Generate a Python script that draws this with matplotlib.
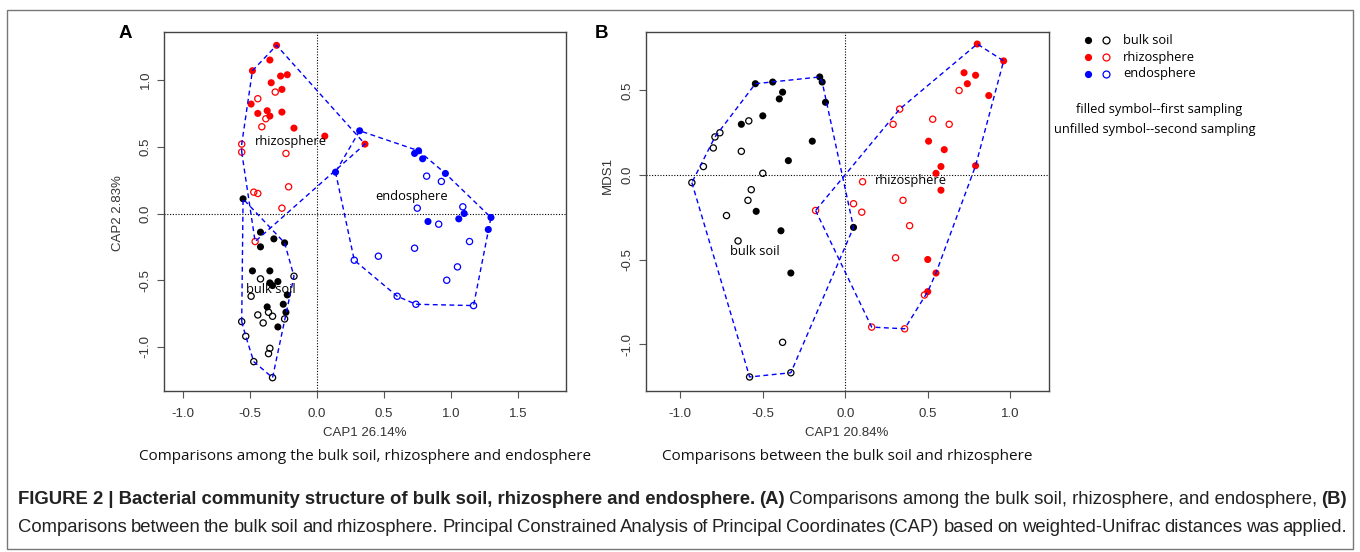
import numpy as np
import matplotlib
matplotlib.use("Agg")
import matplotlib.pyplot as plt
from matplotlib.patches import Rectangle
from matplotlib import font_manager

# ---- data ----
# panel A (CAP on bulk soil, rhizosphere, endosphere)
a_bulk1_x = [-0.55, -0.42, -0.42, -0.32, -0.24, -0.48, -0.35, -0.35, -0.33, -0.29, -0.22, -0.25, -0.37, -0.23, -0.29]
a_bulk1_y = [0.11, -0.14, -0.25, -0.19, -0.22, -0.43, -0.43, -0.52, -0.54, -0.51, -0.61, -0.68, -0.70, -0.74, -0.85]
a_bulk2_x = [-0.42, -0.49, -0.17, -0.44, -0.36, -0.33, -0.40, -0.24, -0.56, -0.53, -0.35, -0.36, -0.47, -0.33]
a_bulk2_y = [-0.49, -0.62, -0.47, -0.76, -0.74, -0.77, -0.82, -0.79, -0.81, -0.92, -1.01, -1.05, -1.11, -1.23]
a_rhizo1_x = [-0.30, -0.35, -0.48, -0.27, -0.22, -0.34, -0.26, -0.49, -0.44, -0.37, -0.35, -0.26, -0.17, 0.06, 0.36]
a_rhizo1_y = [1.26, 1.15, 1.07, 1.03, 1.04, 0.98, 0.93, 0.82, 0.75, 0.77, 0.73, 0.76, 0.64, 0.58, 0.52]
a_rhizo2_x = [-0.31, -0.44, -0.38, -0.41, -0.56, -0.56, -0.23, -0.47, -0.44, -0.21, -0.26, -0.46]
a_rhizo2_y = [0.91, 0.86, 0.71, 0.65, 0.52, 0.46, 0.45, 0.16, 0.15, 0.20, 0.04, -0.21]
a_endo1_x = [0.32, 0.14, 0.76, 0.73, 0.79, 0.96, 0.83, 1.06, 1.10, 1.30, 1.28]
a_endo1_y = [0.62, 0.31, 0.47, 0.45, 0.41, 0.30, -0.06, -0.04, 0.00, -0.03, -0.12]
a_endo2_x = [0.82, 0.93, 0.75, 1.09, 0.91, 0.73, 1.14, 0.46, 0.28, 1.05, 0.97, 0.60, 0.74, 1.17]
a_endo2_y = [0.28, 0.24, 0.04, 0.05, -0.08, -0.26, -0.21, -0.32, -0.35, -0.40, -0.50, -0.62, -0.68, -0.69]

# panel B (bulk soil vs rhizosphere)
b_bulk1_x = [-0.545, -0.44, -0.155, -0.14, -0.12, -0.38, -0.40, -0.50, -0.63, -0.20, -0.345, -0.54, -0.39, -0.33, 0.05]
b_bulk1_y = [0.54, 0.55, 0.58, 0.55, 0.43, 0.49, 0.45, 0.35, 0.30, 0.20, 0.085, -0.215, -0.33, -0.58, -0.31]
b_bulk2_x = [-0.585, -0.76, -0.79, -0.80, -0.63, -0.86, -0.93, -0.50, -0.57, -0.59, -0.72, -0.65, -0.38, -0.58, -0.33]
b_bulk2_y = [0.32, 0.25, 0.225, 0.16, 0.14, 0.05, -0.045, 0.01, -0.087, -0.15, -0.24, -0.39, -0.99, -1.195, -1.17]
b_rhizo1_x = [0.80, 0.96, 0.72, 0.79, 0.74, 0.87, 0.505, 0.60, 0.58, 0.79, 0.55, 0.58, 0.50, 0.55, 0.50]
b_rhizo1_y = [0.775, 0.675, 0.605, 0.59, 0.54, 0.47, 0.20, 0.15, 0.05, 0.055, 0.01, -0.09, -0.50, -0.58, -0.69]
b_rhizo2_x = [0.69, 0.33, 0.29, 0.53, 0.63, 0.105, 0.05, 0.10, 0.35, 0.39, 0.305, 0.48, 0.16, 0.36, -0.18]
b_rhizo2_y = [0.50, 0.39, 0.30, 0.33, 0.30, -0.04, -0.17, -0.22, -0.15, -0.30, -0.49, -0.71, -0.90, -0.91, -0.21]

groups = ["bulk soil", "rhizosphere", "endosphere"]
colors = ["black", "red", "blue"]

W, H = 1360, 552
names = {f.name for f in font_manager.fontManager.ttflist}
NARROW = "Liberation Sans Narrow" if "Liberation Sans Narrow" in names else "Liberation Sans"
HUMAN = "Open Sans"


def hull(xs, ys):
    pts = sorted(set(zip(xs, ys)))

    def cross(o, a, b):
        return (a[0] - o[0]) * (b[1] - o[1]) - (a[1] - o[1]) * (b[0] - o[0])

    lower, upper = [], []
    for p in pts:
        while len(lower) >= 2 and cross(lower[-2], lower[-1], p) <= 0:
            lower.pop()
        lower.append(p)
    for p in reversed(pts):
        while len(upper) >= 2 and cross(upper[-2], upper[-1], p) <= 0:
            upper.pop()
        upper.append(p)
    h = lower[:-1] + upper[:-1]
    h.append(h[0])
    return np.array(h)


def draw_panel(ax, sets, xlim, ylim, xticks, yticks):
    for x1, y1, x2, y2, c in sets:
        ax.scatter(x1, y1, s=26, c=c, edgecolors="none", zorder=3)
        ax.scatter(x2, y2, s=20, facecolors="none", edgecolors=c, linewidths=0.9, zorder=3)
    for x1, y1, x2, y2, c in sets:
        h = hull(list(x1) + list(x2), list(y1) + list(y2))
        ax.plot(h[:, 0], h[:, 1], color="blue", lw=1.0, ls=(0, (3.5, 2.5)), zorder=4)
    ax.axhline(0, color="black", lw=0.8, ls=(0, (1, 1.5)), zorder=2)
    ax.axvline(0, color="black", lw=0.8, ls=(0, (1, 1.5)), zorder=2)
    ax.set_xlim(*xlim)
    ax.set_ylim(*ylim)
    ax.set_xticks(xticks)
    ax.set_yticks(yticks)
    ax.set_xticklabels([f"{v:.1f}" for v in xticks], fontfamily=NARROW, fontsize=9.5, color="#333")
    ax.set_yticklabels([f"{v:.1f}" for v in yticks], fontfamily=NARROW, fontsize=9.5, color="#333",
                       rotation=90, va="center")
    ax.tick_params(direction="out", length=5, width=0.8, color="#555")
    ax.tick_params(axis="x", pad=7)
    ax.tick_params(axis="y", pad=4)
    for s in ax.spines.values():
        s.set_color("#444")
        s.set_linewidth(1.0)


fig = plt.figure(figsize=(W / 100, H / 100), dpi=100)

axA = fig.add_axes([164 / W, 1 - 391 / H, 402 / W, 359 / H])
draw_panel(axA,
           [(a_bulk1_x, a_bulk1_y, a_bulk2_x, a_bulk2_y, "black"),
            (a_rhizo1_x, a_rhizo1_y, a_rhizo2_x, a_rhizo2_y, "red"),
            (a_endo1_x, a_endo1_y, a_endo2_x, a_endo2_y, "blue")],
           (-1.14, 1.86), (-1.33, 1.36),
           [-1.0, -0.5, 0.0, 0.5, 1.0, 1.5], [-1.0, -0.5, 0.0, 0.5, 1.0])

axB = fig.add_axes([646 / W, 1 - 391 / H, 403 / W, 359 / H])
draw_panel(axB,
           [(b_bulk1_x, b_bulk1_y, b_bulk2_x, b_bulk2_y, "black"),
            (b_rhizo1_x, b_rhizo1_y, b_rhizo2_x, b_rhizo2_y, "red")],
           (-1.208, 1.235), (-1.278, 0.846),
           [-1.0, -0.5, 0.0, 0.5, 1.0], [-1.0, -0.5, 0.0, 0.5])

lab_fs = 9.3
axA.text(-0.19, 0.54, "rhizosphere", ha="center", va="center", fontfamily=HUMAN, fontsize=lab_fs, zorder=5)
axA.text(0.71, 0.13, "endosphere", ha="center", va="center", fontfamily=HUMAN, fontsize=lab_fs, zorder=5)
axA.text(-0.345, -0.57, "bulk soil", ha="center", va="center", fontfamily=HUMAN, fontsize=lab_fs, zorder=5)
axB.text(0.40, -0.034, "rhizosphere", ha="center", va="center", fontfamily=HUMAN, fontsize=lab_fs, zorder=5)
axB.text(-0.55, -0.45, "bulk soil", ha="center", va="center", fontfamily=HUMAN, fontsize=lab_fs, zorder=5)

# overlay in pixel coordinates for frame, legend, captions
ov = fig.add_axes([0, 0, 1, 1], zorder=10)
ov.set_xlim(0, W)
ov.set_ylim(H, 0)
ov.axis("off")
ov.patch.set_alpha(0)
renderer = fig.canvas.get_renderer()

ov.add_patch(Rectangle((7, 10), 1346, 539, fill=False, edgecolor="#777", lw=1.0))

ov.text(125, 33, "A", ha="center", va="center", fontfamily="Liberation Sans", fontweight="bold", fontsize=13.5)
ov.text(601, 33, "B", ha="center", va="center", fontfamily="Liberation Sans", fontweight="bold", fontsize=13.5)

ov.text(365, 433, "CAP1 26.14%", ha="center", va="center", fontfamily=NARROW, fontsize=9.5, color="#333")
ov.text(847, 433, "CAP1 20.84%", ha="center", va="center", fontfamily=NARROW, fontsize=9.5, color="#333")
ov.text(118, 213, "CAP2 2.83%", ha="center", va="center", rotation=90, fontfamily=NARROW, fontsize=9.5, color="#333")
ov.text(608, 175, "MDS1", ha="center", va="center", rotation=90, fontfamily=NARROW, fontsize=9.5, color="#333")

# subtitles, sized so the first spans ~450 px
s1 = ov.text(365, 456, "Comparisons among the bulk soil, rhizosphere and endosphere", ha="center", va="center",
             fontfamily=HUMAN, fontsize=11, color="#111")
sub_fs = 11 * 450 / s1.get_window_extent(renderer).width
s1.set_fontsize(sub_fs)
ov.text(847, 456, "Comparisons between the bulk soil and rhizosphere", ha="center", va="center",
        fontfamily=HUMAN, fontsize=sub_fs, color="#111")

# legend
for i, (g, c) in enumerate(zip(groups, colors)):
    yy = 40 + 17 * i
    ov.plot(1088, yy, "o", color=c, ms=5.2, mec="none")
    ov.plot(1106, yy, "o", mfc="none", mec=c, ms=5.0, mew=0.9)
    ov.text(1123, yy, g, ha="left", va="center", fontfamily=HUMAN, fontsize=lab_fs)
ov.text(1159, 109, "filled symbol--first sampling", ha="center", va="center", fontfamily=HUMAN, fontsize=lab_fs)
ov.text(1155, 129, "unfilled symbol--second sampling", ha="center", va="center", fontfamily=HUMAN, fontsize=lab_fs)

# caption: line 1 sets the size with natural spacing, line 2 is justified
left, right = 18, 1347
parts = [("FIGURE 2 | Bacterial community structure of bulk soil, rhizosphere and endosphere.", "bold"),
         ("(A)", "bold"),
         ("Comparisons among the bulk soil, rhizosphere, and endosphere,", "normal"),
         ("(B)", "bold")]
base = 12
objs = []
for txt, wt in parts:
    objs.append(ov.text(0, 500, txt, ha="left", va="center", fontfamily=NARROW, fontweight=wt,
                        fontsize=base, color="#222"))
sp = ov.text(0, 0, "a a", fontfamily=NARROW, fontsize=base)
sp_w = sp.get_window_extent(renderer).width
sp.set_text("aa")
sp_w -= sp.get_window_extent(renderer).width
sp.remove()
nat = sum(o.get_window_extent(renderer).width for o in objs) + sp_w * (len(objs) - 1)
cap_fs = base * (right - left) / nat
for o in objs:
    o.set_fontsize(cap_fs)
widths = [o.get_window_extent(renderer).width for o in objs]
gap = (right - left - sum(widths)) / (len(objs) - 1)
x = left
for o, w in zip(objs, widths):
    o.set_x(x)
    x += w + gap

line2 = ("Comparisons between the bulk soil and rhizosphere. Principal Constrained Analysis of Principal "
         "Coordinates (CAP) based on weighted-Unifrac distances was applied.").split()
wobjs = [ov.text(0, 527, w, ha="left", va="center", fontfamily=NARROW, fontsize=cap_fs, color="#222")
         for w in line2]
ww = [o.get_window_extent(renderer).width for o in wobjs]
gap = (right - left - sum(ww)) / (len(wobjs) - 1)
x = left
for o, w in zip(wobjs, ww):
    o.set_x(x)
    x += w + gap

fig.savefig("out.png", dpi=100)
